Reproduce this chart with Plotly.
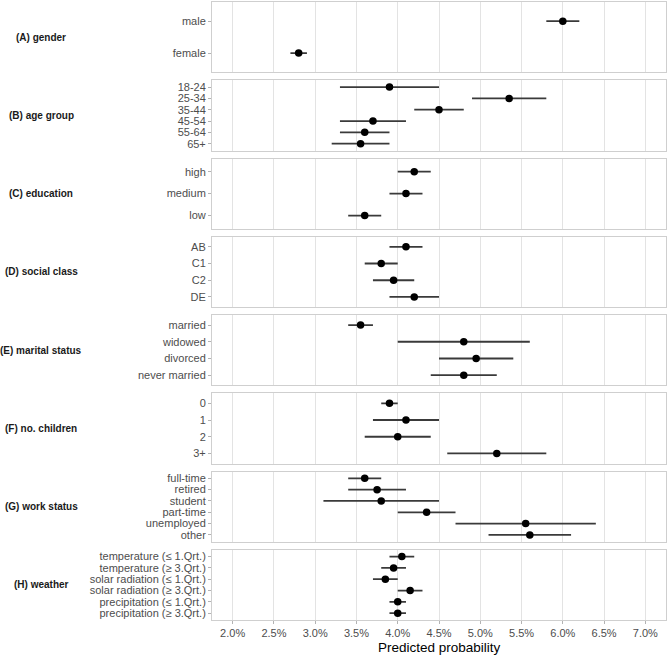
import plotly.graph_objects as go
from plotly.subplots import make_subplots

# facet labels and categories (top to bottom)
panels = [
    "(A) gender", "(B) age group", "(C) education", "(D) social class",
    "(E) marital status", "(F) no. children", "(G) work status", "(H) weather",
]
cats = [
    ["male", "female"],
    ["18-24", "25-34", "35-44", "45-54", "55-64", "65+"],
    ["high", "medium", "low"],
    ["AB", "C1", "C2", "DE"],
    ["married", "widowed", "divorced", "never married"],
    ["0", "1", "2", "3+"],
    ["full-time", "retired", "student", "part-time", "unemployed", "other"],
    ["temperature (≤ 1.Qrt.)", "temperature (≥ 3.Qrt.)", "solar radiation (≤ 1.Qrt.)",
     "solar radiation (≥ 3.Qrt.)", "precipitation (≤ 1.Qrt.)", "precipitation (≥ 3.Qrt.)"],
]
# predicted probability in percent, with lower / upper bounds
est = [
    [6.0, 2.8],
    [3.9, 5.35, 4.5, 3.7, 3.6, 3.55],
    [4.2, 4.1, 3.6],
    [4.1, 3.8, 3.95, 4.2],
    [3.55, 4.8, 4.95, 4.8],
    [3.9, 4.1, 4.0, 5.2],
    [3.6, 3.75, 3.8, 4.35, 5.55, 5.6],
    [4.05, 3.95, 3.85, 4.15, 4.0, 4.0],
]
low = [
    [5.8, 2.7],
    [3.3, 4.9, 4.2, 3.3, 3.3, 3.2],
    [4.0, 3.9, 3.4],
    [3.9, 3.6, 3.7, 3.9],
    [3.4, 4.0, 4.5, 4.4],
    [3.8, 3.7, 3.6, 4.6],
    [3.4, 3.4, 3.1, 4.0, 4.7, 5.1],
    [3.9, 3.8, 3.7, 4.0, 3.9, 3.9],
]
high = [
    [6.2, 2.9],
    [4.5, 5.8, 4.8, 4.1, 3.9, 3.9],
    [4.4, 4.3, 3.8],
    [4.3, 4.0, 4.2, 4.5],
    [3.7, 5.6, 5.4, 5.2],
    [4.0, 4.5, 4.4, 5.8],
    [3.8, 4.1, 4.5, 4.7, 6.4, 6.1],
    [4.2, 4.1, 4.0, 4.3, 4.1, 4.1],
]
xticks = [2.0, 2.5, 3.0, 3.5, 4.0, 4.5, 5.0, 5.5, 6.0, 6.5, 7.0]

n = len(panels)
L, R, T, B = 212, 4, 2, 37
W, H = 670, 657
ph = H - T - B
fig = make_subplots(rows=n, cols=1, shared_xaxes=True, vertical_spacing=8 / ph)

for i in range(n):
    x = [v / 100 for v in est[i]]
    lo = [(e - l) / 100 for e, l in zip(est[i], low[i])]
    hi = [(h - e) / 100 for e, h in zip(est[i], high[i])]
    fig.add_trace(go.Scatter(
        x=x, y=cats[i], mode="markers",
        marker=dict(color="black", size=7.5),
        error_x=dict(type="data", symmetric=False, array=hi, arrayminus=lo,
                     width=0, thickness=1.8, color="#3a3a3a"),
        showlegend=False, hoverinfo="skip",
    ), row=i + 1, col=1)
    k = len(cats[i])
    fig.update_yaxes(type="category", categoryarray=cats[i], range=[k - 0.4, -0.6],
                     tickmode="array", tickvals=cats[i], ticktext=cats[i],
                     row=i + 1, col=1)

fig.update_yaxes(showgrid=False, zeroline=False, showline=True, mirror=True,
                 linecolor="#cfcfcf", linewidth=1, ticks="outside", ticklen=3,
                 tickcolor="#b3b3b3", automargin=False,
                 tickfont=dict(size=11, color="#4d4d4d"))
fig.update_xaxes(range=[0.0175, 0.0725], tickvals=[t / 100 for t in xticks],
                 tickformat=".1%", showgrid=True, gridcolor="#e3e3e3", gridwidth=1,
                 zeroline=False, showline=True, mirror=True, linecolor="#cfcfcf",
                 linewidth=1, automargin=False,
                 tickfont=dict(size=11, color="#4d4d4d"))
fig.update_xaxes(ticks="outside", ticklen=3, tickcolor="#b3b3b3", row=n, col=1)

# strip labels on the left
for i in range(n):
    yname = "yaxis" if i == 0 else f"yaxis{i + 1}"
    d = fig.layout[yname].domain
    fig.add_annotation(text="<b>" + panels[i] + "</b>", xref="paper", yref="paper",
                       x=(41 - L) / (W - L - R), y=(d[0] + d[1]) / 2, xanchor="center",
                       yanchor="middle", showarrow=False,
                       font=dict(size=10, color="#1a1a1a"))

# x axis title
fig.add_annotation(text="Predicted probability", xref="paper", yref="paper",
                   x=0.5, y=-(648 - (H - B)) / ph, xanchor="center", yanchor="middle",
                   showarrow=False, font=dict(size=13.5, color="black"))

fig.update_layout(
    width=W, height=H,
    margin=dict(l=L, r=R, t=T, b=B),
    plot_bgcolor="white", paper_bgcolor="white",
    font=dict(family="Liberation Sans, Arial, sans-serif"),
)

# drop the browser's default page margin so the figure fills the window
fig.write_html("out.html", config={"displayModeBar": False},
               post_script="document.body.style.margin='0';")
